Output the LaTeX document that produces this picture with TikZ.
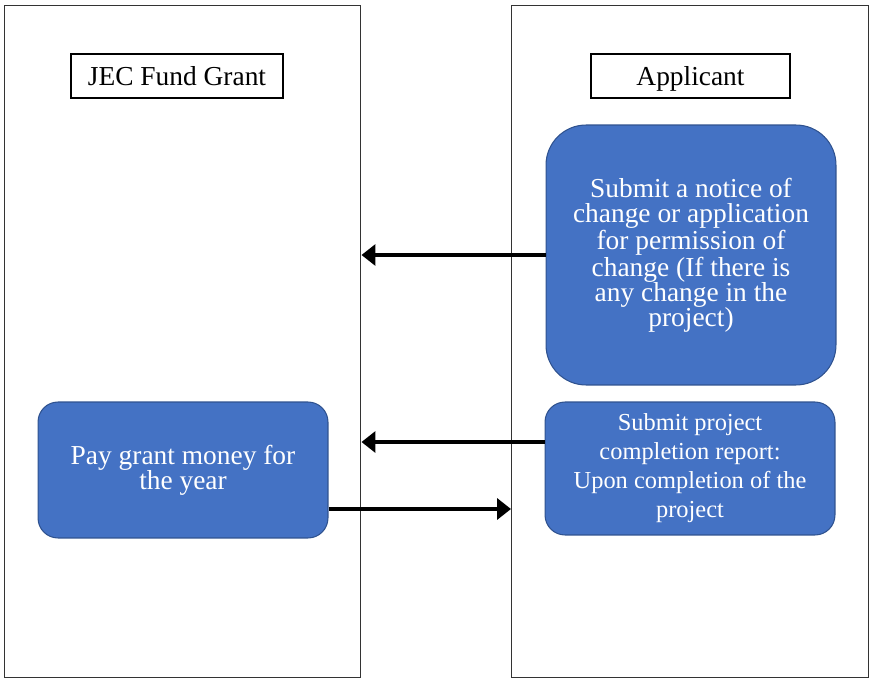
\documentclass[tikz,border=0pt]{standalone}
\usepackage{fontspec}
\setmainfont{Liberation Serif}
\usetikzlibrary{arrows.meta}

\definecolor{stepfill}{RGB}{68,114,196}
\definecolor{stepline}{RGB}{47,82,143}

\tikzset{
  lane/.style={draw=black!80,line width=0.6pt,minimum width=7.14cm,minimum height=13.46cm},
  title/.style={draw=black,line width=0.6pt,minimum height=0.88cm,text height=10.3pt,text depth=0pt,
    font=\fontsize{15.6}{18}\selectfont},
  step box/.style={draw=stepline,fill=stepfill,text=white,align=center,line width=0.6pt,minimum width=5.8cm},
  flow/.style={line width=2pt,-{Triangle[length=0.28cm,width=0.42cm]}}
}

\begin{document}
\begin{tikzpicture}[x=0.02cm,y=-0.02cm]
         \useasboundingbox (0,0) rectangle (869,679) ;
         % swim lanes
         \node[lane] (fundlane) at (182.5,341.5) {} ;
         \node[lane] (applane) at (690,341.5) {} ;
         \node[title,minimum width=4.24cm] (fund) at (177,76) {JEC Fund Grant} ;
         \node[title,minimum width=3.98cm] (app) at (690.5,76) {Applicant} ;
         % steps
         \node[step box,minimum height=5.2cm,rounded corners=0.8cm,
               font=\fontsize{15.6}{14.2}\selectfont] (change) at (691,255)
               {Submit a notice of\\change or application\\for permission of\\change (If there is\\any change in the\\project)} ;
         \node[step box,minimum height=2.66cm,rounded corners=0.4cm,
               font=\fontsize{13.9}{16.5}\selectfont] (report) at (690,468.5)
               {Submit project\\completion report:\\Upon completion of the\\project} ;
         \node[step box,minimum height=2.72cm,rounded corners=0.4cm,
               font=\fontsize{15.6}{14.2}\selectfont] (pay) at (183,470)
               {Pay grant money for\\the year} ;
         % flows
         \draw[flow] (change.west) -- (change.west -| fundlane.east) ;
         \draw[flow] ([yshift=0.53cm]report.west) -- ([yshift=0.53cm]report.west -| fundlane.east) ;
         \draw[flow] ([yshift=-0.78cm]pay.east) -- ([yshift=-0.78cm]pay.east -| applane.west) ;
       \end{tikzpicture}
\end{document}
